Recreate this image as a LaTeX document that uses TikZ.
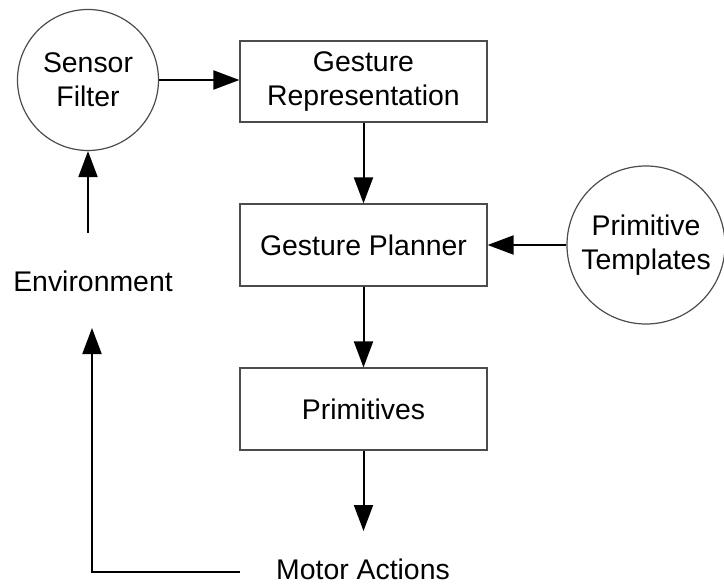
\documentclass[tikz,border=0pt]{standalone}
\usepackage{fontspec}
\setmainfont{Liberation Sans}
\usetikzlibrary{arrows.meta}
\begin{document}
\begin{tikzpicture}[x=1pt,y=-1pt,
  txt/.style={font=\fontsize{28.4}{34}\selectfont, align=center, inner sep=0pt},
  blk/.style={txt, draw=black!70, line width=1.2pt, minimum width=247pt, minimum height=82pt},
  circ/.style={txt, draw=black!70, line width=1.2pt, circle},
  arr/.style={line width=2pt, -{Triangle[length=26pt,width=19pt]}}
]
\useasboundingbox (0,0) rectangle (724,586);
\node[circ, minimum size=141pt] (sf) at (88,80) {Sensor\\Filter};
\node[blk, minimum height=81pt] (gr) at (363.5,81.5) {Gesture\\Representation};
\node[blk] (gp) at (363.5,245) {Gesture Planner};
\node[blk] (pr) at (363.5,409) {Primitives};
\node[circ, minimum size=158pt] (pt) at (646,245) {Primitive\\Templates};
\node[txt, anchor=base] (env) at (93,291) {Environment};
\node[txt, anchor=base] (ma) at (363,579) {Motor Actions};
\coordinate (envtop) at (88,233);
\coordinate (matop) at (363.5,531);
\coordinate (fbstart) at (240,572);
\coordinate (fbend) at (92,328);
\draw[arr] (sf.east |- 0,80) -- (gr.west |- 0,80);
\draw[arr] (gr.south) -- (gp.north);
\draw[arr] (pt.west) -- (gp.east);
\draw[arr] (gp.south) -- (pr.north);
\draw[arr] (pr.south) -- (matop);
\draw[arr] (envtop) -- (sf.south);
\draw[arr] (fbstart) -| (fbend);
\end{tikzpicture}
\end{document}
